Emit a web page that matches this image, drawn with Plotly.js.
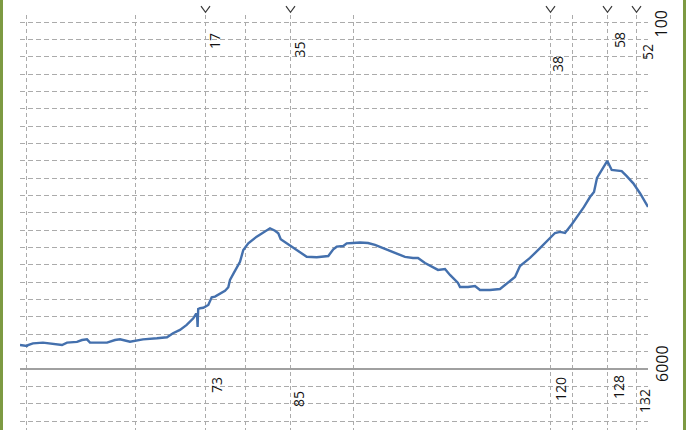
<!DOCTYPE html>
<html>
<head>
<meta charset="utf-8">
<script src="https://cdn.plot.ly/plotly-3.0.1.min.js"></script>
<style>
  html, body { margin: 0; padding: 0; background: #ffffff; }
  #wrap { position: relative; width: 686px; height: 430px; overflow: hidden; }
  #chart { width: 686px; height: 430px; }
  .edge { position: absolute; top: 0; width: 3px; height: 430px; background: #7d9a42; }
</style>
</head>
<body>
<div id="wrap">
  <div id="chart"></div>
  <div class="edge" style="left:0"></div>
  <div class="edge" style="right:0"></div>
</div>
<script>
// Series (x position along the track, value in grid units)
const xs = [20,27,28,33,43,53,62,67,77,82,87,90,107,115,120,130,135,143,157,167,173,176.7,180,186.7,193.3,196,197,197.6,198.2,200,203.3,208.3,211.7,215,220,225,228.3,230,233.3,236.7,240,243.3,248.3,256.7,265,270,275,278.3,280.7,283.3,293.3,306.7,316.7,328.3,333.3,336.7,343.3,346.7,353,360,368,375,385,395,405,413,418,425,433,438,445,450,458,460,468,475,480,490,500,505,515,520,530,540,550,555,560,565,572,578,584,590,594,597,602,607.3,611.7,616.7,621.7,626.7,633.3,640,648];
const ys = [1.38,1.33,1.38,1.48,1.52,1.44,1.38,1.52,1.56,1.67,1.71,1.52,1.52,1.67,1.71,1.57,1.61,1.71,1.77,1.83,2.06,2.15,2.25,2.54,2.92,3.17,3.20,2.42,3.46,3.50,3.53,3.69,4.13,4.17,4.36,4.51,4.71,5.13,5.48,5.80,6.18,6.86,7.24,7.63,7.91,8.11,7.97,7.82,7.48,7.38,6.96,6.47,6.44,6.51,6.90,7.05,7.09,7.24,7.26,7.29,7.26,7.15,6.92,6.69,6.46,6.40,6.40,6.11,5.88,5.71,5.76,5.42,4.96,4.73,4.73,4.78,4.55,4.55,4.61,4.84,5.30,5.94,6.40,6.97,7.55,7.84,7.90,7.84,8.36,8.82,9.34,9.91,10.20,11.01,11.47,11.99,11.47,11.43,11.41,11.12,10.70,10.13,9.34];

// Vertical grid positions
const gridX = [26,135,205,245,290,353,550,572,607,636,647];

// Marked positions with top and bottom labels
const markX = [205.5,290.5,550.5,607.5,636.5];
const topLabels = ["17","35","38","58","52"];
const topLabelX = [214,300,558,619,647];
const topLabelY = [18.90,18.41,17.58,18.96,18.27];
const bottomLabels = ["73","85","120","128","132"];
const bottomLabelX = [217,298,561,618,645];
const bottomLabelY = [-0.92,-1.73,-1.15,-1.04,-1.84];

// Scale end labels
const scaleTop = "100";
const scaleBottom = "6000";

const FONT = "Open Sans, Noto Sans, DejaVu Sans, sans-serif";

const annotations = [];
topLabels.forEach((t, i) => annotations.push({
  text: t, x: topLabelX[i], y: topLabelY[i], xref: 'x', yref: 'y',
  showarrow: false, textangle: -90, xanchor: 'center', yanchor: 'middle',
  font: {family: FONT, size: 14, color: '#111111'}
}));
bottomLabels.forEach((t, i) => annotations.push({
  text: t, x: bottomLabelX[i], y: bottomLabelY[i], xref: 'x', yref: 'y',
  showarrow: false, textangle: -90, xanchor: 'center', yanchor: 'middle',
  font: {family: FONT, size: 14, color: '#111111'}
}));
annotations.push({
  text: scaleTop, x: (661 - 20) / 628, y: 19.86, xref: 'paper', yref: 'y',
  showarrow: false, textangle: -90, xanchor: 'center', yanchor: 'middle',
  font: {family: FONT, size: 16, color: '#111111'}
});
annotations.push({
  text: scaleBottom, x: (662 - 20) / 628, y: 0.29, xref: 'paper', yref: 'y',
  showarrow: false, textangle: -90, xanchor: 'center', yanchor: 'middle',
  font: {family: FONT, size: 16, color: '#111111'}
});

// Chevron markers above each marked position
const shapes = markX.map(x => ({
  type: 'path', xref: 'x', yref: 'paper',
  path: 'M ' + (x - 4.5) + ',1.0215 L ' + x + ',1.0065 L ' + (x + 4.5) + ',1.0215',
  line: {color: '#3a3a3a', width: 1.2}
}));

const trace = {
  x: xs, y: ys, type: 'scatter', mode: 'lines',
  line: {color: '#4470ad', width: 2.4},
  hoverinfo: 'skip'
};

const layout = {
  width: 686, height: 430,
  margin: {l: 20, r: 38, t: 15, b: 0},
  paper_bgcolor: '#ffffff', plot_bgcolor: '#ffffff',
  showlegend: false,
  xaxis: {
    range: [20, 648], tickmode: 'array', tickvals: gridX,
    showticklabels: false, ticks: '', showline: false, zeroline: false,
    showgrid: true, gridcolor: '#ababab', gridwidth: 1, griddash: '4px,3px'
  },
  yaxis: {
    range: [-61 / 17.35, 354 / 17.35], tick0: 0, dtick: 1,
    showticklabels: false, ticks: '', showline: false,
    showgrid: true, gridcolor: '#ababab', gridwidth: 1, griddash: '5px,3px',
    zeroline: true, zerolinecolor: '#a0a0a0', zerolinewidth: 2.5
  },
  annotations: annotations,
  shapes: shapes
};

Plotly.newPlot('chart', [trace], layout, {displayModeBar: false, staticPlot: true});
</script>
</body>
</html>
